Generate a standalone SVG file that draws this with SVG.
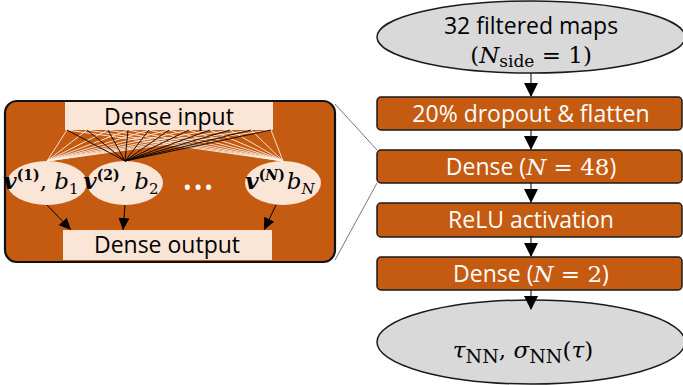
<svg xmlns="http://www.w3.org/2000/svg" width="683" height="385" viewBox="0 0 683 385">
<style>
.t{font-family:"Open Sans","Noto Sans",sans-serif;font-size:23px;text-anchor:middle}
.w{fill:#fff}
.k{fill:#000}
.m{font-family:"DejaVu Serif","Liberation Serif",serif;font-style:italic}
.r{font-family:"DejaVu Serif","Liberation Serif",serif;font-style:normal}
.box{fill:#C55A11;stroke:#1a1a1a;stroke-width:1.5}
.ell{fill:#D9D9D9;stroke:#1a1a1a;stroke-width:1.5}
.lt{fill:#FBE5D6}
.arr{stroke:#000;stroke-width:1;fill:none}
.wl{stroke:#FDF0E6;stroke-width:0.9}
.bl{stroke:#000;stroke-width:0.9}
.gl{stroke:#555;stroke-width:0.8;fill:none}
</style>
<defs>
<marker id="ah" markerUnits="userSpaceOnUse" markerWidth="14" markerHeight="14" refX="13" refY="7" orient="auto">
<path d="M0,0 L14,7 L0,14 Z" fill="#000"/>
</marker>
<marker id="ah2" markerUnits="userSpaceOnUse" markerWidth="12" markerHeight="11" refX="12" refY="5.5" orient="auto">
<path d="M0,0 L12,5.5 L0,11 Z" fill="#000"/>
</marker>
</defs>

<g id="panel">
<rect x="5" y="101" width="330" height="161" rx="12" fill="#C55A11" stroke="#111" stroke-width="2.2"/>
</g>

<g id="dense-input">
<rect class="lt" x="65" y="102" width="208" height="28"/>
<text class="t k" x="169" y="125" font-size="22">Dense input</text>
</g>
<g id="dense-output">
<rect class="lt" x="63" y="230" width="209" height="30"/>
<text class="t k" x="167" y="253" font-size="22">Dense output</text>
</g>
<g id="node-v1">
<ellipse class="lt" cx="47" cy="183" rx="40" ry="22"/>
<text class="t k" x="41" y="189" font-size="22"><tspan class="m" font-weight="bold">v</tspan><tspan class="r" font-size="14" dy="-9" font-weight="bold">(1)</tspan><tspan class="r" dy="9">, </tspan><tspan class="m">b</tspan><tspan class="r" font-size="15" dy="5">1</tspan></text>
</g>
<g id="node-v2">
<ellipse class="lt" cx="125" cy="183" rx="38" ry="22"/>
<text class="t k" x="121" y="189" font-size="22"><tspan class="m" font-weight="bold">v</tspan><tspan class="r" font-size="14" dy="-9" font-weight="bold">(2)</tspan><tspan class="r" dy="9">, </tspan><tspan class="m">b</tspan><tspan class="r" font-size="15" dy="5">2</tspan></text>
</g>
<g id="dots">
<text class="t w" x="199" y="196" font-size="18" letter-spacing="2">•••</text>
</g>
<g id="node-vN">
<ellipse class="lt" cx="283" cy="183" rx="38" ry="22"/>
<text class="t k" x="280" y="189" font-size="22"><tspan class="m" font-weight="bold">v</tspan><tspan class="r" font-size="14" dy="-9" font-weight="bold">(<tspan font-style="italic">N</tspan>)</tspan><tspan class="m" dx="2" dy="9">b</tspan><tspan class="m" font-size="15" dy="5">N</tspan></text>
</g>

<g id="input-maps">
<ellipse class="ell" cx="531" cy="37" rx="154" ry="36"/>
<text class="t k" x="531" y="34">32 filtered maps</text>
<text class="t k" x="531" y="63" font-size="25"><tspan class="r">(</tspan><tspan class="m">N</tspan><tspan class="r" font-size="17" dy="4">side</tspan><tspan class="r" dy="-4"> = 1)</tspan></text>
</g>
<g id="dropout">
<rect class="box" x="377" y="97" width="305" height="33" rx="4"/>
<text class="t w" x="531" y="122">20% dropout &amp; flatten</text>
</g>
<g id="dense48">
<rect class="box" x="377" y="150" width="305" height="33" rx="4"/>
<text class="t w" x="531" y="175">Dense (<tspan class="m" font-size="23">N</tspan><tspan class="r" font-size="23"> = 48</tspan>)</text>
</g>
<g id="relu">
<rect class="box" x="377" y="203" width="305" height="34" rx="4"/>
<text class="t w" x="531" y="228">ReLU activation</text>
</g>
<g id="dense2">
<rect class="box" x="377" y="257" width="305" height="33" rx="4"/>
<text class="t w" x="531" y="282">Dense (<tspan class="m" font-size="23">N</tspan><tspan class="r" font-size="23"> = 2</tspan>)</text>
</g>
<g id="output">
<ellipse class="ell" cx="531" cy="342" rx="154" ry="42"/>
<text class="t k" x="523" y="358" font-size="28"><tspan class="m">τ</tspan><tspan class="r" font-size="19" dy="5">NN</tspan><tspan class="r" dy="-5">,  </tspan><tspan class="m">σ</tspan><tspan class="r" font-size="19" dy="5">NN</tspan><tspan class="r" dy="-5">(</tspan><tspan class="m">τ</tspan><tspan class="r">)</tspan></text>
</g>

<g id="connectors">
<line class="gl" x1="335" y1="104" x2="377" y2="150"/>
<line class="gl" x1="335" y1="260" x2="377" y2="183"/>
<line class="arr" x1="531" y1="73" x2="531" y2="96" marker-end="url(#ah)"/>
<line class="arr" x1="531" y1="130" x2="531" y2="149" marker-end="url(#ah)"/>
<line class="arr" x1="531" y1="183" x2="531" y2="202" marker-end="url(#ah)"/>
<line class="arr" x1="531" y1="237" x2="531" y2="256" marker-end="url(#ah)"/>
<line class="arr" x1="531" y1="290" x2="531" y2="309" marker-end="url(#ah)"/>
<g id="fan">
<g class="wl">
<line x1="67" y1="130" x2="47" y2="161"/><line x1="87" y1="130" x2="47" y2="161"/><line x1="108" y1="130" x2="47" y2="161"/><line x1="128" y1="130" x2="47" y2="161"/><line x1="149" y1="130" x2="47" y2="161"/><line x1="169" y1="130" x2="47" y2="161"/><line x1="189" y1="130" x2="47" y2="161"/><line x1="210" y1="130" x2="47" y2="161"/><line x1="230" y1="130" x2="47" y2="161"/><line x1="251" y1="130" x2="47" y2="161"/><line x1="271" y1="130" x2="47" y2="161"/>
<line x1="67" y1="130" x2="283" y2="161"/><line x1="87" y1="130" x2="283" y2="161"/><line x1="108" y1="130" x2="283" y2="161"/><line x1="128" y1="130" x2="283" y2="161"/><line x1="149" y1="130" x2="283" y2="161"/><line x1="169" y1="130" x2="283" y2="161"/><line x1="189" y1="130" x2="283" y2="161"/><line x1="210" y1="130" x2="283" y2="161"/><line x1="230" y1="130" x2="283" y2="161"/><line x1="251" y1="130" x2="283" y2="161"/><line x1="271" y1="130" x2="283" y2="161"/>
</g>
<g class="bl">
<line x1="67" y1="130" x2="125" y2="161"/><line x1="87" y1="130" x2="125" y2="161"/><line x1="108" y1="130" x2="125" y2="161"/><line x1="128" y1="130" x2="125" y2="161"/><line x1="149" y1="130" x2="125" y2="161"/><line x1="169" y1="130" x2="125" y2="161"/><line x1="189" y1="130" x2="125" y2="161"/><line x1="210" y1="130" x2="125" y2="161"/><line x1="230" y1="130" x2="125" y2="161"/><line x1="251" y1="130" x2="125" y2="161"/><line x1="271" y1="130" x2="125" y2="161"/>
</g>
</g>
<line class="arr" x1="47" y1="205" x2="71" y2="230" marker-end="url(#ah2)"/>
<line class="arr" x1="125" y1="205" x2="123" y2="230" marker-end="url(#ah2)"/>
<line class="arr" x1="276" y1="205" x2="264" y2="230" marker-end="url(#ah2)"/>
</g>
</svg>
